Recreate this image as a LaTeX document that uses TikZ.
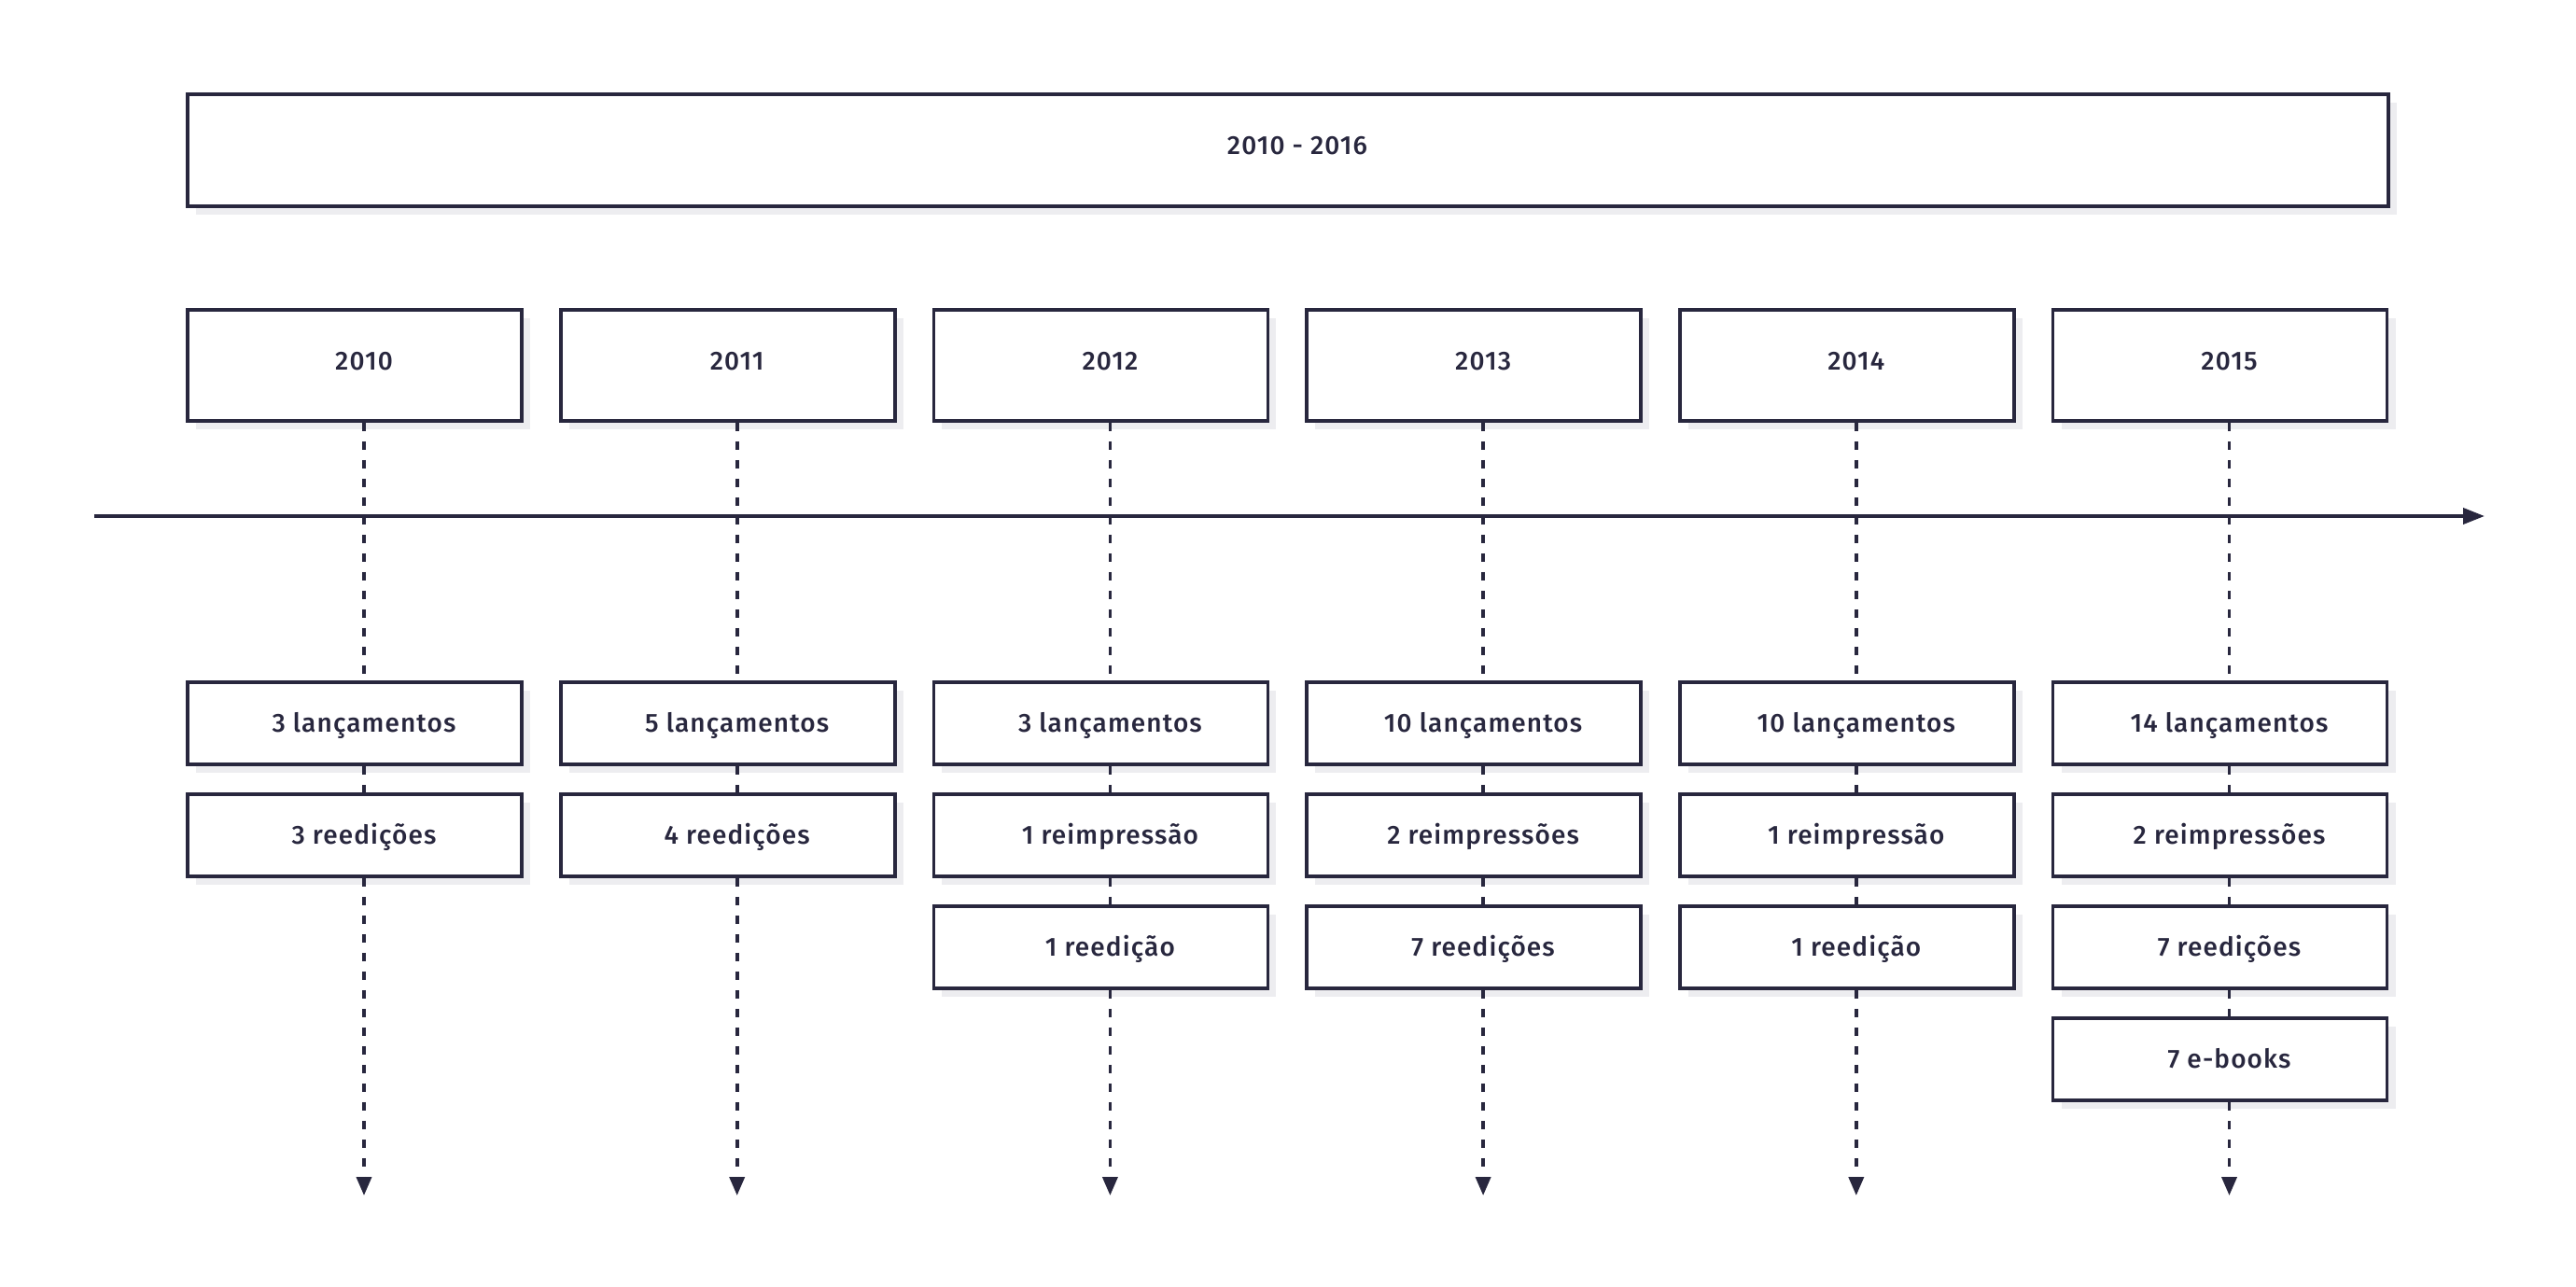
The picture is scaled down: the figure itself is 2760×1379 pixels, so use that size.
\documentclass[tikz,border=0pt]{standalone}
\usepackage{fontspec}
\setmainfont{Fira Sans}[UprightFont=* Medium, LetterSpace=4]
\usetikzlibrary{arrows.meta,shadows}
\definecolor{ink}{RGB}{40,39,62}
\definecolor{shade}{RGB}{237,237,240}
\tikzset{
  boxbase/.style={draw=ink, line width=1.85pt, fill=white, inner sep=0pt,
    drop shadow={fill=shade, opacity=1, shadow xshift=4.5pt, shadow yshift=-4.5pt}},
  itembox/.style={boxbase, minimum width=179pt, minimum height=44pt},
  yearbox/.style={boxbase, minimum width=179pt, minimum height=59.5pt},
  titlebox/.style={boxbase, minimum width=1179pt, minimum height=60pt},
  lbl/.style={text=ink, font=\fontsize{14}{16}\selectfont, inner sep=0pt, text height=9.6pt, text depth=0pt},
  dashline/.style={draw=ink, line width=1.85pt, dash pattern=on 4.7pt off 5.3pt},
  axisline/.style={draw=ink, line width=1.8pt, -{Triangle[length=11.5pt,width=8.5pt]}},
  endtip/.style={-{Triangle[length=10pt,width=8pt]}}
}
\begin{document}
\begin{tikzpicture}[x=0.5pt,y=-0.5pt]
\useasboundingbox (0,0) rectangle (2760,1379);
\node[titlebox] (top) at (1380,161) {};
\node[lbl] (topt) at (1390,156) {2010 - 2016};
\coordinate (tl0) at (101,553);
\coordinate (tl1) at (2662,553);
\draw[axisline] (tl0) -- (tl1);
\foreach \k/\yr/\n/\items in {
  0/2010/2/{3 lançamentos,3 reedições},
  1/2011/2/{5 lançamentos,4 reedições},
  2/2012/3/{3 lançamentos,1 reimpressão,1 reedição},
  3/2013/3/{10 lançamentos,2 reimpressões,7 reedições},
  4/2014/3/{10 lançamentos,1 reimpressão,1 reedição},
  5/2015/4/{14 lançamentos,2 reimpressões,7 reedições,7 e-books}}{
  \pgfmathsetmacro\cx{380+399.7*\k}
  \node[yearbox] (y\k) at (\cx,391.5) {};
  \node[lbl] (y\k t) at (\cx+10,387) {\yr};
  \foreach \itm [count=\j] in \items {
    \node[itembox] (c\k-\j) at (\cx,655+120*\j) {};
    \node[lbl] (c\k-\j t) at (\cx+10,655+120*\j) {\itm};
  }
  \coordinate (e\k) at (\cx+10,1281);
  \draw[dashline] ([xshift=5pt]y\k.south) -- ([xshift=5pt]c\k-1.north);
  \foreach \j [remember=\j as \p (initially 1)] in {2,...,\n} {
    \draw[dashline] ([xshift=5pt]c\k-\p.south) -- ([xshift=5pt]c\k-\j.north);
  }
  \draw[dashline,endtip] ([xshift=5pt]c\k-\n.south) -- (e\k);
}
\end{tikzpicture}
\end{document}
